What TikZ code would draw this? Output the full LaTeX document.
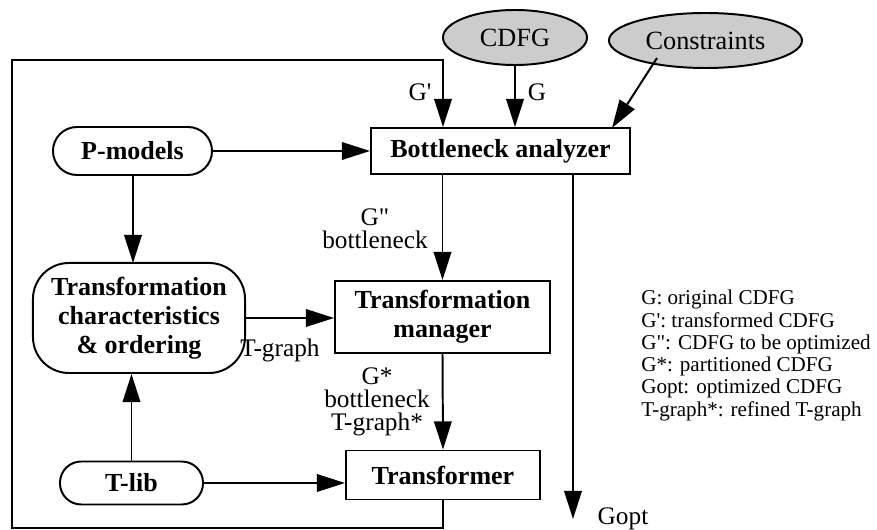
\documentclass[tikz,border=0pt]{standalone}
\usepackage{fontspec}
\setmainfont{Liberation Serif}[Ligatures=TeXOff]
\usetikzlibrary{shapes.geometric,arrows.meta}
\tikzset{
  blk/.style={draw,line width=1.4pt,font=\fontsize{18.5}{20.5}\selectfont\bfseries,align=center,inner sep=0pt},
  box/.style={blk,rectangle},
  pill/.style={blk,rounded corners=#1},
  src/.style={draw,ellipse,line width=1.4pt,fill=black!20,font=\fontsize{18.7}{21}\selectfont,inner sep=0pt},
  flow/.style={line width=1.4pt,-{Triangle[length=20pt,width=12.5pt]}},
  lbl/.style={font=\fontsize{18}{16.5}\selectfont,align=center,inner sep=1pt},
  key/.style={font=\fontsize{15}{15.8}\selectfont,align=left,inner sep=0pt}
}
\begin{document}
\begin{tikzpicture}[x=0.025cm,y=-0.025cm]
  \useasboundingbox (0,0) rectangle (877,530);
  % inputs
  \node[src,minimum width=3.6cm,minimum height=1.375cm] (cdfg) at (515,37.5) {CDFG};
  \node[src,minimum width=4.825cm,minimum height=1.375cm] (cons) at (705.5,40.5) {Constraints};
  % blocks
  \node[box,minimum width=6.475cm,minimum height=1.15cm] (bottle) at (500.5,151) {Bottleneck analyzer};
  \node[box,minimum width=5.375cm,minimum height=1.8cm] (tman) at (442.5,317) {Transformation\\manager};
  \node[box,minimum width=4.85cm,minimum height=1.225cm] (tform) at (443,475) {Transformer};
  \node[pill=0.6cm,minimum width=3.975cm,minimum height=1.2cm] (pmod) at (132.5,151) {P-models};
  \node[pill=0.9cm,minimum width=5.3cm,minimum height=2.75cm] (tchar) at (139,318) {Transformation\\characteristics\\\& ordering};
  \node[pill=0.53cm,minimum width=3.575cm,minimum height=1.075cm] (tlib) at (131.5,483) {T-lib};
  % feedback loop
  \coordinate (loopBR) at (443,528);
  \coordinate (loopBL) at (12,528);
  \coordinate (loopTL) at (12,60);
  \coordinate (loopTR) at (443,60);
  \coordinate (consOut) at (657,58);
  \coordinate (optOut) at (573,519);
  \draw[flow] (tform.south) -- (loopBR) -- (loopBL) -- (loopTL) -- (loopTR) -- (loopTR |- bottle.north);
  \draw[flow] (cdfg.south) -- (cdfg.south |- bottle.north);
  \draw[flow] (consOut) -- (612,128);
  \draw[flow] (pmod.east) -- (pmod.east -| bottle.west);
  \draw[flow] (133,175) -- (133,263);
  \draw[flow] (tman.north |- bottle.south) -- (tman.north);
  \draw[flow] (tchar.east) -- (tchar.east -| tman.west);
  \draw[flow] (tman.south) -- (tform.north);
  \draw[flow] (tlib.north) -- (tlib.north |- tchar.south);
  \draw[flow] (tlib.east) -- (tlib.east -| tform.west);
  \draw[flow] (optOut |- bottle.south) -- (optOut);
  % labels
  \node[lbl] (lGp) at (420,92) {G'};
  \node[lbl] (lG) at (537,92) {G};
  \node[lbl] (lGpp) at (375,229) {G"\\bottleneck};
  \node[lbl] (lGs) at (377,402) {G*\\bottleneck\\T-graph*};
  \node[lbl] (lTg) at (280,350) {T-graph};
  \node[lbl,anchor=west] (lGopt) at (596,519) {Gopt};
  % legend
  \node[key,anchor=north west] (key) at (641,290) {G: original CDFG\\G': transformed CDFG\\G": CDFG to be optimized\\G*: partitioned CDFG\\Gopt: optimized CDFG\\T-graph*: refined T-graph};
\end{tikzpicture}
\end{document}
